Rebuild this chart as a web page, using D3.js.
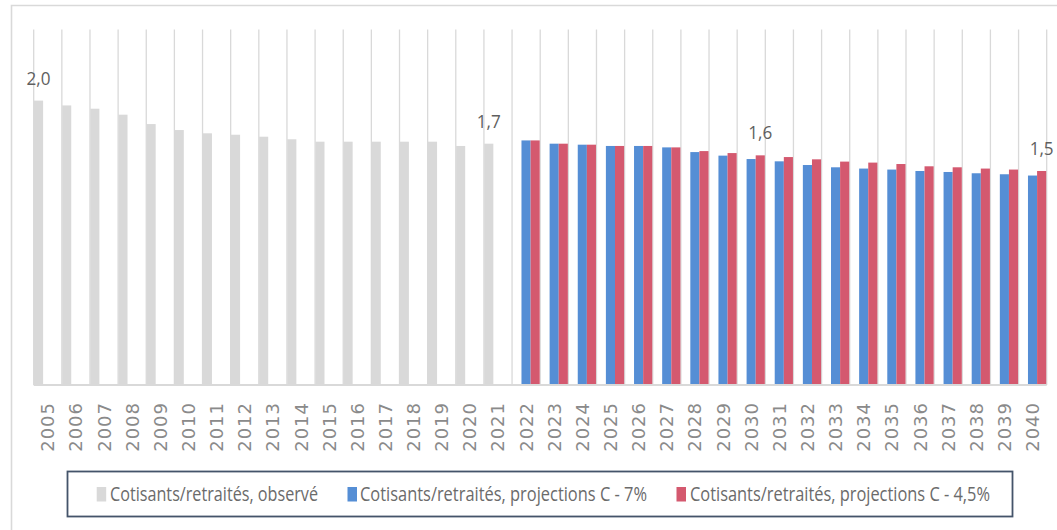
<!DOCTYPE html>
<html>
<head>
<meta charset="utf-8">
<script src="https://cdn.jsdelivr.net/npm/d3@7"></script>
<style>
  html, body { margin: 0; padding: 0; background: #ffffff; }
  svg { display: block; }
</style>
</head>
<body>
<svg id="chart" width="1057" height="530"></svg>
<script>
// ---- data ----
const years = d3.range(2005, 2041).map(String);
const observed = [2.00, 1.966, 1.943, 1.901, 1.835, 1.793, 1.770, 1.760, 1.746, 1.728,
                  1.711, 1.711, 1.711, 1.711, 1.711, 1.681, 1.697];           // 2005-2021
const projC7 = [1.720, 1.697, 1.690, 1.681, 1.681, 1.671, 1.638, 1.613, 1.589, 1.573,
                1.547, 1.531, 1.522, 1.515, 1.505, 1.498, 1.489, 1.482, 1.473]; // 2022-2040
const projC45 = [1.720, 1.697, 1.690, 1.681, 1.681, 1.671, 1.645, 1.631, 1.615, 1.603,
                 1.587, 1.571, 1.564, 1.554, 1.538, 1.531, 1.522, 1.515, 1.505]; // 2022-2040
const observedYears = years.slice(0, 17);
const projYears = years.slice(17);
const seriesNames = ["Cotisants/retraités, observé",
                     "Cotisants/retraités, projections C - 7%",
                     "Cotisants/retraités, projections C - 4,5%"];
const seriesKeys = ["obs", "c7", "c45"];
const labelled = [ // [year, seriesKey]
  ["2005", "obs"], ["2021", "obs"], ["2030", "c45"], ["2040", "c45"]
];

const colors = { obs: "#d9d9d9", c7: "#558ed5", c45: "#d4596f" };

// ---- build rows ----
const rows = [];
observedYears.forEach((y, i) => rows.push({ year: y, key: "obs", value: observed[i] }));
projYears.forEach((y, i) => rows.push({ year: y, key: "c7", value: projC7[i] }));
projYears.forEach((y, i) => rows.push({ year: y, key: "c45", value: projC45[i] }));

const svg = d3.select("#chart");

// outer frame (top and left edges visible)
svg.append("path")
  .attr("d", "M11.5,530 L11.5,5.5 L1057,5.5")
  .attr("fill", "none").attr("stroke", "#d9d9d9").attr("stroke-width", 1.6);

const x = d3.scaleBand().domain(years).range([33.7, 1046.7]).padding(0);
const bw = x.bandwidth();
const xs = d3.scaleBand().domain(seriesKeys).range([0.3, bw - 0.5]).padding(0);
const y = d3.scaleLinear().domain([0, 2.5]).range([385, 29.5]);

// vertical gridlines at category boundaries
const bounds = years.map(d => x(d)).concat([x(years[years.length - 1]) + bw]);
svg.append("g").selectAll("line").data(bounds).join("line")
  .attr("x1", d => d).attr("x2", d => d)
  .attr("y1", y(2.5)).attr("y2", y(0))
  .attr("stroke", "#d9d9d9").attr("stroke-width", 1.3);

// bars
svg.append("g").selectAll("rect").data(rows).join("rect")
  .attr("x", d => x(d.year) + xs(d.key))
  .attr("width", xs.bandwidth())
  .attr("y", d => y(d.value))
  .attr("height", d => y(0) - y(d.value))
  .attr("fill", d => colors[d.key]);

// baseline
svg.append("line")
  .attr("x1", x.range()[0]).attr("x2", x.range()[1])
  .attr("y1", y(0)).attr("y2", y(0))
  .attr("stroke", "#d9d9d9").attr("stroke-width", 2);

// data labels
const fmt = v => d3.format(".1f")(v).replace(".", ",");
const labelRows = labelled.map(([yr, k]) => rows.find(r => r.year === yr && r.key === k));
svg.append("g").selectAll("text").data(labelRows).join("text")
  .attr("x", d => x(d.year) + xs(d.key) + xs.bandwidth() / 2)
  .attr("y", d => y(d.value) - 16)
  .attr("text-anchor", "middle")
  .attr("font-family", "'Open Sans', sans-serif")
  .attr("font-size", 19)
  .attr("fill", "#5f5f5f")
  .attr("transform", d => {
    const cx = x(d.year) + xs(d.key) + xs.bandwidth() / 2;
    return `translate(${cx},0) scale(0.9,1) translate(${-cx},0)`;
  })
  .text(d => fmt(d.value));

// x axis labels (rotated)
const xAxis = d3.axisBottom(x).tickSize(0).tickPadding(0);
const gx = svg.append("g").attr("transform", `translate(0,${y(0)})`).call(xAxis);
gx.select(".domain").remove();
gx.selectAll(".tick text")
  .attr("font-family", "'DejaVu Sans', sans-serif")
  .attr("font-size", 18)
  .attr("letter-spacing", 1)
  .attr("fill", "#8a8a8a")
  .attr("text-anchor", "end")
  .attr("x", 0).attr("y", 0).attr("dy", "0.36em")
  .attr("transform", "translate(0,17) scale(1,1) rotate(-90)");

// legend
const legend = svg.append("g");
legend.append("rect")
  .attr("x", 67.5).attr("y", 471.5).attr("width", 945).attr("height", 45)
  .attr("fill", "#ffffff").attr("stroke", "#44546a").attr("stroke-width", 1.8);
const legendItems = [
  { key: "obs", name: seriesNames[0], sx: 96.7, tx: 110, len: 208 },
  { key: "c7", name: seriesNames[1], sx: 347.5, tx: 360, len: 287 },
  { key: "c45", name: seriesNames[2], sx: 676.5, tx: 690, len: 300 }
];
const li = legend.selectAll("g.item").data(legendItems).join("g").attr("class", "item");
li.append("rect")
  .attr("x", d => d.sx).attr("y", 487).attr("width", 9.5).attr("height", 14.5)
  .attr("fill", d => colors[d.key]);
li.append("text")
  .attr("x", d => d.tx).attr("y", 500.5)
  .attr("font-family", "'Open Sans', sans-serif")
  .attr("font-size", 20)
  .attr("fill", "#6b6b6b")
  .attr("textLength", d => d.len)
  .attr("lengthAdjust", "spacingAndGlyphs")
  .text(d => d.name);
</script>
</body>
</html>
